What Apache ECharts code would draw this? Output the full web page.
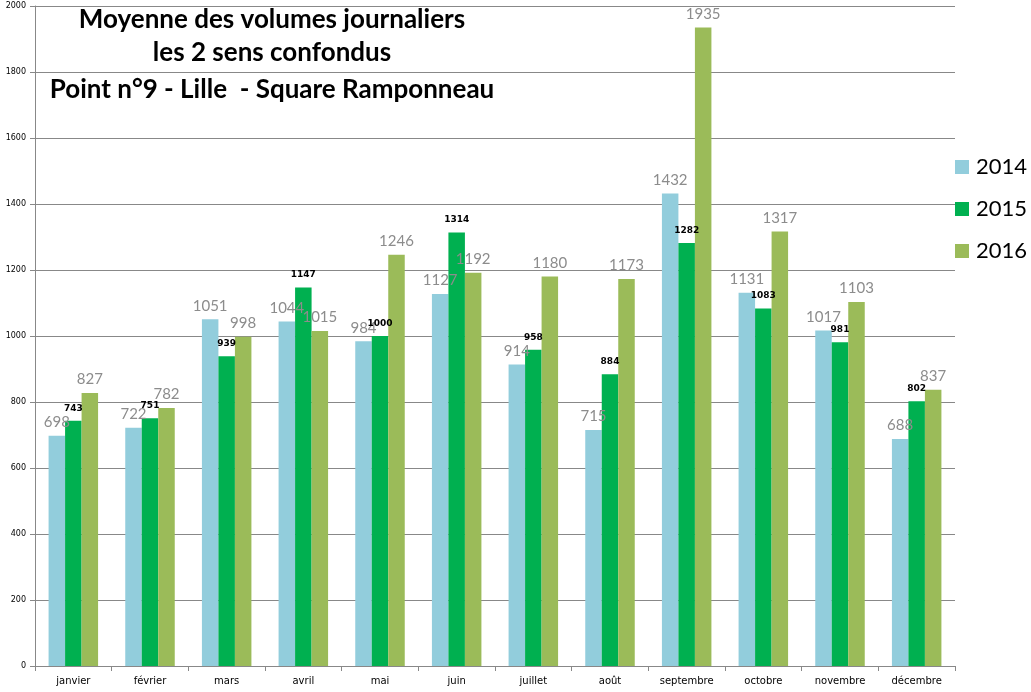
<!DOCTYPE html>
<html>
<head>
<meta charset="utf-8">
<title>Moyenne des volumes journaliers</title>
<script src="https://cdn.jsdelivr.net/npm/echarts@6/dist/echarts.min.js"></script>
<style>
  html, body { margin: 0; padding: 0; background: #fff; }
  #chart { width: 1031px; height: 692px; }
</style>
</head>
<body>
<div id="chart"></div>
<script>
// mois (axe des catégories)
const months = ['janvier', 'février', 'mars', 'avril', 'mai', 'juin',
  'juillet', 'août', 'septembre', 'octobre', 'novembre', 'décembre'];

// volumes journaliers moyens par année
const v2014 = [698, 722, 1051, 1044, 984, 1127, 914, 715, 1432, 1131, 1017, 688];
const v2015 = [743, 751, 939, 1147, 1000, 1314, 958, 884, 1282, 1083, 981, 802];
const v2016 = [827, 782, 998, 1015, 1246, 1192, 1180, 1173, 1935, 1317, 1103, 837];

const years = ['2014', '2015', '2016'];
const titleLines = [
  'Moyenne des volumes journaliers',
  'les 2 sens confondus',
  'Point n°9 - Lille  - Square Ramponneau'
];

const colors = ['#92CDDC', '#00B050', '#9BBB59'];

const chart = echarts.init(document.getElementById('chart'));

// étiquette grise (2014, 2016) ou noire et petite (2015)
const bigLabel = {
  show: true,
  position: 'top',
  distance: 6,
  color: '#8c8c8c',
  fontSize: 15,
  fontFamily: 'Lato'
};
const smallLabel = {
  show: true,
  position: 'top',
  distance: 8,
  color: '#000',
  fontSize: 9,
  fontWeight: 'bold',
  fontFamily: 'DejaVu Sans'
};

const makeSeries = (name, data, color, label) => ({
  name: name,
  type: 'bar',
  data: data,
  barWidth: 16.5,
  barGap: '0%',
  itemStyle: { color: color },
  label: label,
  emphasis: { disabled: true }
});

const option = {
  animation: false,
  color: colors,
  grid: { left: 35, right: 76, top: 6, bottom: 26 },
  // titre sur trois lignes, centré vers x=270
  graphic: titleLines.map((t, i) => ({
    type: 'text',
    x: 272,
    y: [20, 53, 90][i],
    style: {
      text: t,
      textAlign: 'center',
      textVerticalAlign: 'middle',
      font: 'bold 26px Lato',
      fill: '#000'
    }
  })),
  legend: {
    orient: 'vertical',
    left: 950,
    top: 151,
    itemWidth: 14,
    itemHeight: 14,
    itemGap: 20,
    icon: 'rect',
    textStyle: { fontSize: 22, fontFamily: 'Lato', color: '#000', padding: [0, 0, 0, 2] },
    data: years
  },
  xAxis: {
    type: 'category',
    data: months,
    axisLine: { lineStyle: { color: '#888' } },
    axisTick: { show: true, length: 5, lineStyle: { color: '#888' } },
    axisLabel: { color: '#000', fontSize: 10, fontFamily: 'DejaVu Sans', margin: 10 }
  },
  yAxis: {
    type: 'value',
    min: 0,
    max: 2000,
    interval: 200,
    axisLine: { show: true, lineStyle: { color: '#888' } },
    axisTick: { show: true, length: 5, lineStyle: { color: '#888' } },
    axisLabel: {
      color: '#000', fontSize: 8, fontFamily: 'DejaVu Sans', margin: 9,
      formatter: v => String(v)
    },
    splitLine: { lineStyle: { color: '#888', width: 1 } }
  },
  series: [
    makeSeries('2014', v2014, colors[0], bigLabel),
    makeSeries('2015', v2015, colors[1], smallLabel),
    makeSeries('2016', v2016, colors[2], bigLabel)
  ]
};

chart.setOption(option);
</script>
</body>
</html>
